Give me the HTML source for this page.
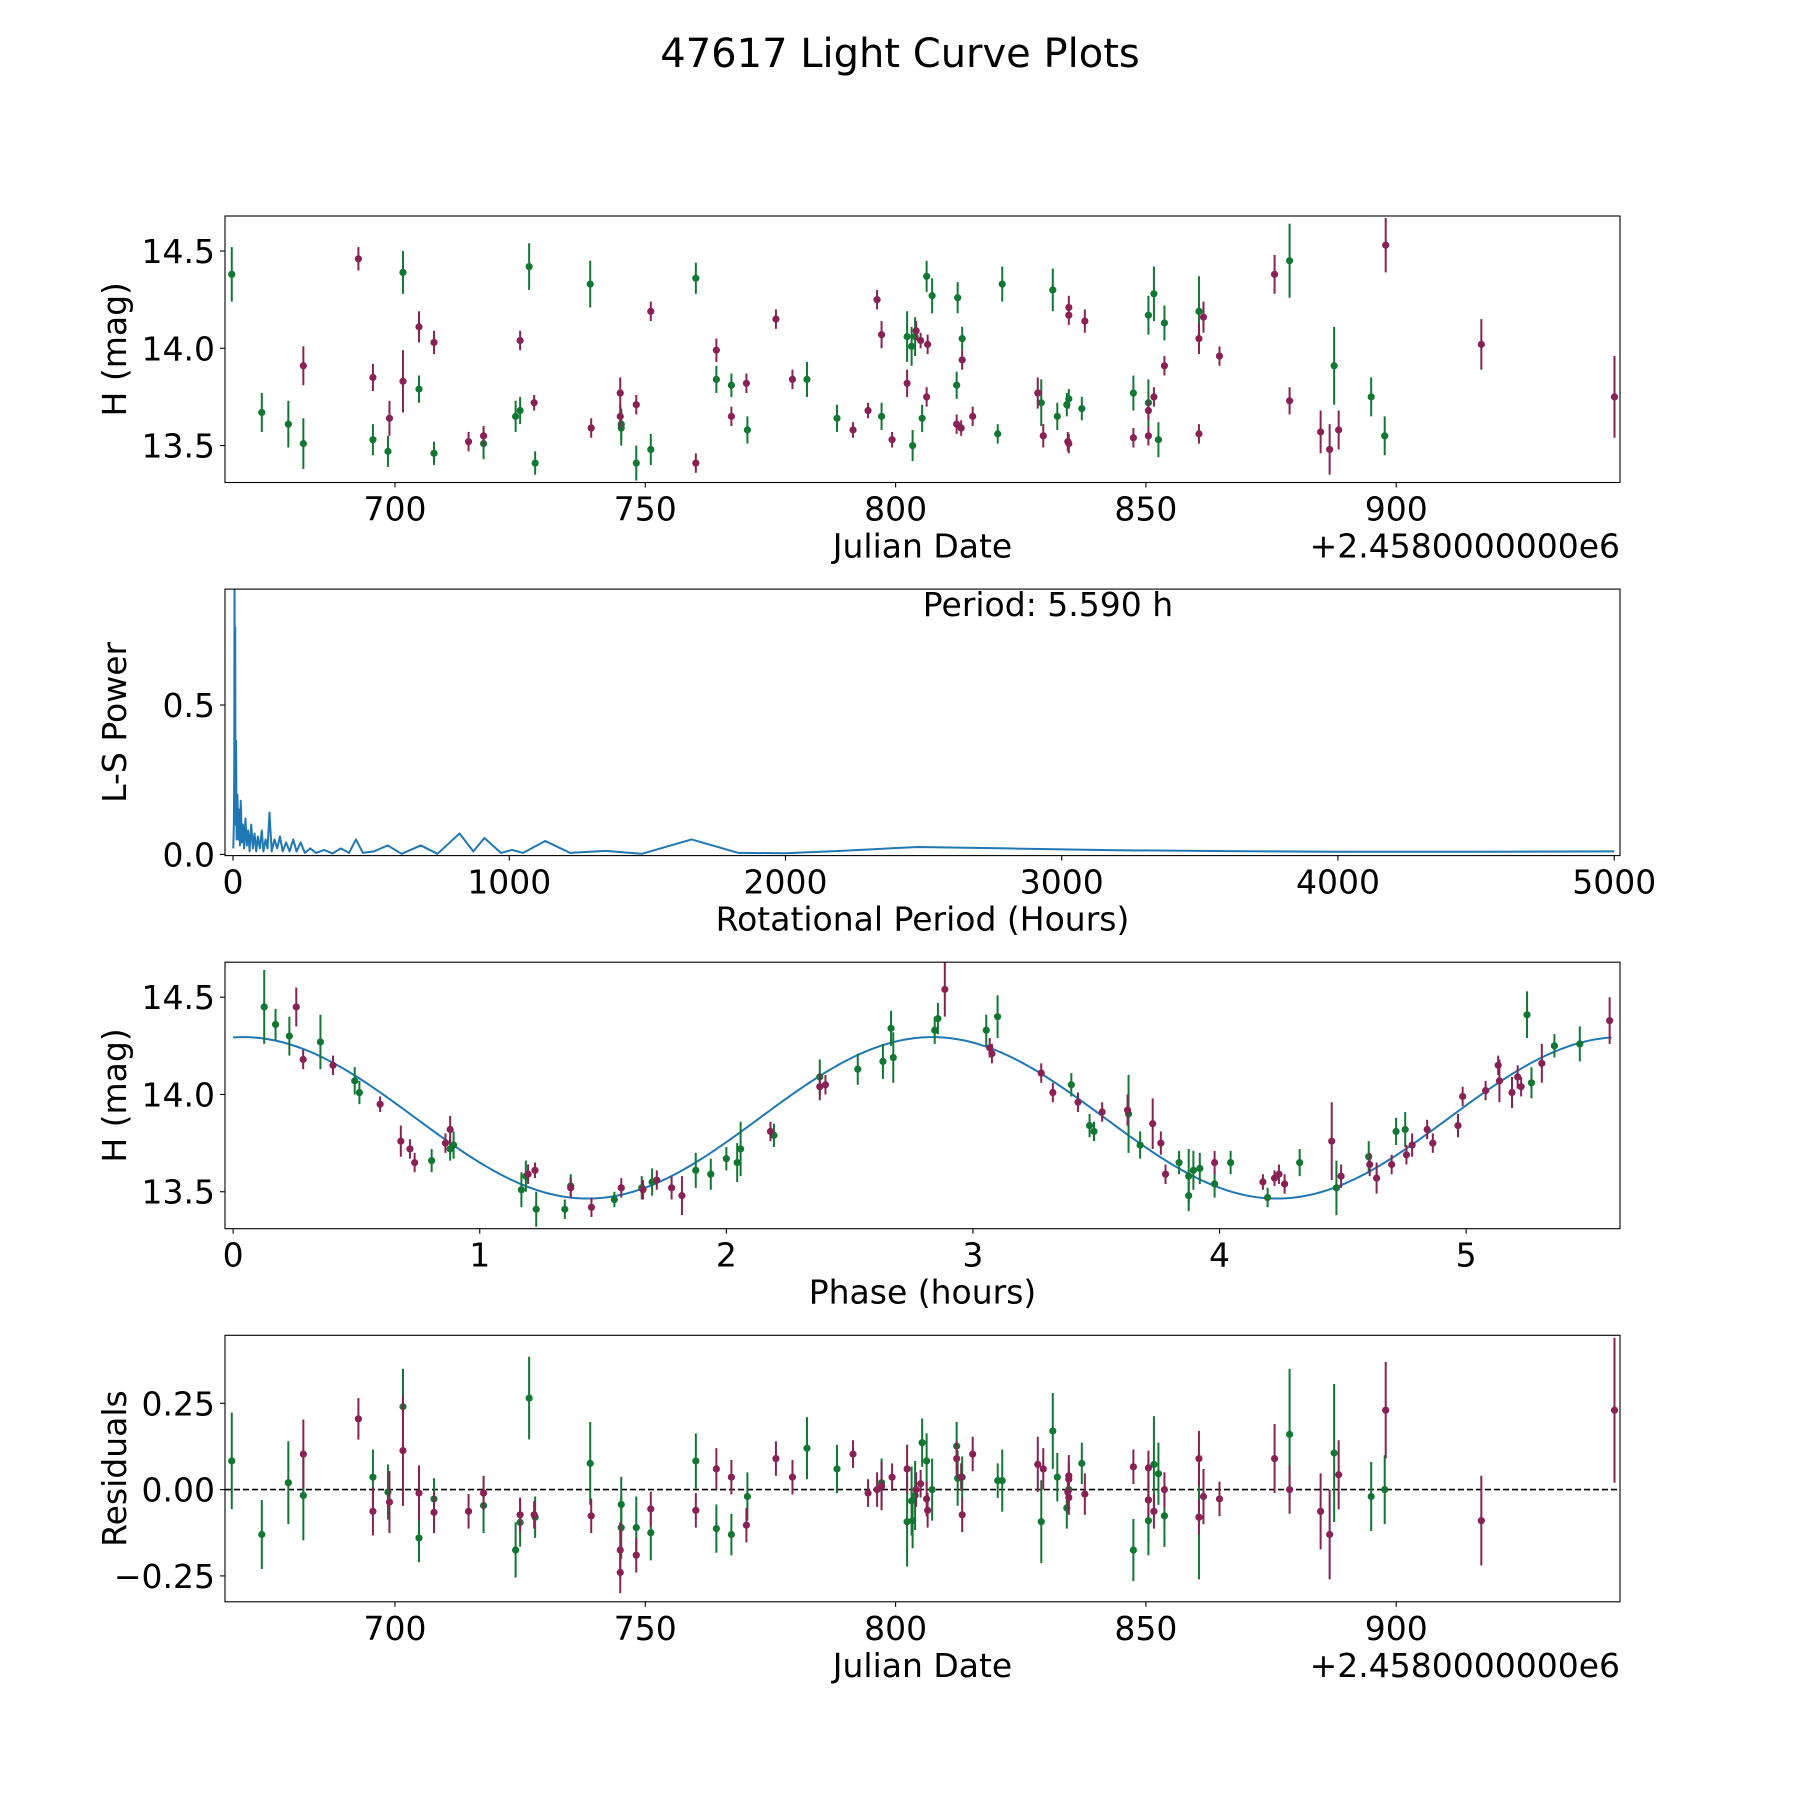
<!DOCTYPE html>
<html><head><meta charset="utf-8"><title>47617 Light Curve Plots</title>
<style>
html,body{margin:0;padding:0;background:#fff;}
svg{display:block;font-family:"DejaVu Sans","Liberation Sans",sans-serif;}
</style></head>
<body>
<svg id="fig" width="1800" height="1800" viewBox="0 0 1800 1800" xmlns="http://www.w3.org/2000/svg">
<rect width="1800" height="1800" fill="#fff"/>
<text x="900" y="67" font-size="40" text-anchor="middle">47617 Light Curve Plots</text>
</svg>
<script>
// ---------- DATA ----------
const greenJD  = [667.4,673.4,678.7,681.7,695.6,698.6,701.6,704.8,707.8,717.7,724.1,725.0,726.8,728.0,739.0,745.2,745.2,748.2,751.1,760.1,764.2,767.2,770.4,782.3,788.3,797.2,802.3,803.2,803.4,803.9,805.3,806.2,807.3,812.2,812.4,813.3,820.4,821.3,829.1,831.4,832.3,834.2,834.6,837.2,847.5,850.5,850.5,851.6,852.5,853.7,860.6,878.7,887.6,895.0,897.7];
const greenMag = [14.38,13.67,13.61,13.51,13.53,13.47,14.39,13.79,13.46,13.51,13.65,13.68,14.42,13.41,14.33,13.61,13.59,13.41,13.48,14.36,13.84,13.81,13.58,13.84,13.64,13.65,14.06,14.01,13.50,14.06,13.64,14.37,14.27,13.81,14.26,14.05,13.56,14.33,13.72,14.30,13.65,13.71,13.74,13.69,13.77,14.17,13.72,14.28,13.53,14.13,14.19,14.45,13.91,13.75,13.55];
const greenErr = [0.14,0.1,0.12,0.13,0.08,0.08,0.11,0.07,0.06,0.08,0.08,0.07,0.12,0.06,0.12,0.08,0.09,0.09,0.08,0.08,0.07,0.06,0.07,0.09,0.07,0.07,0.13,0.1,0.08,0.1,0.07,0.08,0.09,0.07,0.08,0.06,0.05,0.09,0.12,0.11,0.07,0.06,0.05,0.06,0.09,0.1,0.12,0.14,0.09,0.09,0.18,0.19,0.2,0.1,0.1];
const greenRes = [0.083,-0.13,0.02,-0.017,0.036,-0.007,0.24,-0.14,-0.027,-0.046,-0.175,-0.095,0.265,-0.08,0.076,-0.043,-0.11,-0.11,-0.125,0.083,-0.113,-0.13,-0.02,0.12,0.06,0.02,-0.093,-0.033,-0.09,-0.017,0.136,0.083,0.0,0.126,0.033,0.036,0.026,0.026,-0.093,0.17,0.036,-0.053,0.0,0.076,-0.175,-0.09,-0.03,0.073,0.046,-0.076,-0.08,0.16,0.106,-0.02,0.0];
const purpleJD  = [681.7,692.7,695.6,698.9,701.6,704.8,707.8,714.7,717.7,725.0,727.8,739.2,745.0,745.0,748.2,751.1,760.1,764.2,767.2,770.2,776.1,779.4,791.5,794.5,796.3,797.2,799.3,802.3,804.1,805.0,806.4,806.2,812.2,813.1,813.3,815.4,828.4,829.5,834.6,834.6,834.4,834.6,837.8,847.5,850.5,850.5,851.6,853.7,860.6,861.5,860.6,864.7,875.7,878.7,884.9,886.7,888.5,897.9,917.0,943.6];
const purpleMag = [13.91,14.46,13.85,13.64,13.83,14.11,14.03,13.52,13.55,14.04,13.72,13.59,13.77,13.65,13.71,14.19,13.41,13.99,13.65,13.82,14.15,13.84,13.58,13.68,14.25,14.07,13.53,13.82,14.09,14.04,14.02,13.75,13.61,13.59,13.94,13.65,13.77,13.55,14.21,14.17,13.52,13.51,14.14,13.54,13.55,13.68,13.75,13.91,14.05,14.16,13.56,13.96,14.38,13.73,13.57,13.48,13.58,14.53,14.02,13.75];
const purpleErr = [0.1,0.06,0.07,0.09,0.16,0.08,0.06,0.05,0.05,0.05,0.04,0.05,0.08,0.06,0.05,0.05,0.05,0.06,0.05,0.05,0.05,0.05,0.04,0.04,0.05,0.07,0.04,0.07,0.05,0.04,0.05,0.05,0.05,0.04,0.05,0.05,0.08,0.06,0.06,0.05,0.05,0.05,0.06,0.05,0.05,0.05,0.05,0.05,0.08,0.08,0.05,0.05,0.1,0.07,0.11,0.13,0.1,0.14,0.13,0.21];
const purpleRes = [0.103,0.205,-0.063,-0.036,0.113,-0.01,-0.066,-0.063,-0.01,-0.073,-0.073,-0.076,-0.175,-0.24,-0.19,-0.056,-0.06,0.06,0.036,-0.103,0.09,0.036,0.103,-0.01,0.0,0.01,0.036,0.06,0.0,0.017,-0.06,-0.027,0.09,0.036,-0.073,0.103,0.073,0.06,0.04,0.03,-0.007,-0.023,-0.013,0.066,-0.03,0.063,-0.063,0.0,0.09,-0.02,-0.08,-0.027,0.09,0.0,-0.063,-0.13,0.043,0.23,-0.09,0.23];

const lsPeriod = [1,3,4.5,5.0,5.59,6.2,7,8,9,11,13,16,19,22,25,28,32,36,40,45,50,55,60,66,72,78,84,90,97,104,110,118,125,132,140,150,160,170,180,192,205,218,230,245,260,280,300,330,360,390,420,445,470,510,560,610,680,740,820,870,910,970,1010,1050,1130,1220,1350,1480,1660,1830,2000,2200,2480,2800,3200,3600,4000,4500,5000];
const lsPower  = [0.02,0.1,0.3,0.6,0.95,0.5,0.2,0.76,0.1,0.38,0.05,0.2,0.05,0.15,0.03,0.18,0.04,0.1,0.02,0.12,0.03,0.08,0.01,0.1,0.02,0.07,0.01,0.06,0.02,0.08,0.01,0.05,0.02,0.14,0.01,0.05,0.02,0.06,0.01,0.04,0.01,0.05,0.01,0.04,0.005,0.02,0.005,0.015,0.003,0.02,0.005,0.05,0.005,0.01,0.03,0.002,0.03,0.002,0.07,0.01,0.055,0.005,0.015,0.005,0.045,0.005,0.012,0.002,0.05,0.005,0.004,0.012,0.025,0.02,0.014,0.011,0.009,0.009,0.01];

const phGreen    = [0.126,0.172,0.228,0.354,0.493,0.512,0.805,0.880,0.894,1.169,1.187,1.229,1.345,1.369,1.546,1.657,1.699,1.876,1.937,2.0,2.044,2.058,2.193,2.379,2.533,2.635,2.668,2.677,2.845,2.858,3.054,3.1,3.399,3.473,3.491,3.631,3.678,3.836,3.875,3.875,3.894,3.92,3.98,4.045,4.195,4.325,4.474,4.605,4.716,4.753,5.265,5.247,5.358,5.461];
const phGreenMag = [14.45,14.36,14.30,14.27,14.07,14.01,13.66,13.72,13.74,13.51,13.58,13.41,13.41,13.53,13.46,13.52,13.55,13.61,13.59,13.67,13.65,13.72,13.79,14.09,14.13,14.17,14.34,14.19,14.33,14.39,14.33,14.40,14.05,13.84,13.81,13.90,13.74,13.65,13.58,13.48,13.61,13.62,13.54,13.65,13.47,13.65,13.52,13.68,13.81,13.82,14.06,14.41,14.25,14.26];
const phGreenErr = [0.19,0.08,0.1,0.14,0.07,0.06,0.06,0.06,0.07,0.09,0.08,0.09,0.05,0.06,0.04,0.06,0.07,0.09,0.08,0.06,0.1,0.14,0.06,0.09,0.08,0.09,0.09,0.13,0.07,0.08,0.08,0.11,0.06,0.06,0.05,0.2,0.07,0.06,0.14,0.08,0.1,0.08,0.07,0.06,0.05,0.07,0.14,0.08,0.07,0.09,0.08,0.12,0.06,0.09];
const phPurple    = [0.256,0.284,0.405,0.596,0.68,0.717,0.736,0.861,0.88,1.196,1.224,1.369,1.453,1.574,1.662,1.718,1.778,1.82,2.179,2.379,2.402,2.886,3.068,3.077,3.277,3.324,3.426,3.524,3.627,3.729,3.762,3.781,3.98,4.176,4.223,4.241,4.264,4.455,4.493,4.609,4.637,4.698,4.758,4.781,4.842,4.865,4.967,4.986,5.079,5.13,5.135,5.186,5.209,5.223,5.307,5.582];
const phPurpleMag = [14.45,14.18,14.15,13.95,13.76,13.72,13.65,13.75,13.82,13.59,13.61,13.52,13.42,13.52,13.51,13.56,13.52,13.48,13.81,14.04,14.05,14.54,14.24,14.21,14.11,14.01,13.96,13.91,13.92,13.85,13.75,13.59,13.65,13.55,13.57,13.59,13.54,13.76,13.58,13.64,13.57,13.64,13.69,13.74,13.82,13.75,13.84,13.99,14.02,14.15,14.07,14.01,14.09,14.04,14.16,14.38];
const phPurpleErr = [0.1,0.05,0.05,0.04,0.08,0.05,0.05,0.05,0.07,0.05,0.04,0.05,0.05,0.05,0.05,0.05,0.06,0.1,0.05,0.07,0.05,0.14,0.05,0.05,0.05,0.05,0.05,0.05,0.08,0.13,0.06,0.05,0.06,0.04,0.04,0.05,0.05,0.2,0.06,0.06,0.08,0.05,0.05,0.06,0.05,0.05,0.06,0.05,0.05,0.05,0.11,0.08,0.06,0.05,0.1,0.12];

const modelMean = 13.88, modelAmp = 0.415, modelOffset = 0.04, modelHalfPeriod = 2.795;

const jdTicks = [700,750,800,850,900];
const magTicks = [13.5,14.0,14.5];
const magTickLabels = ["13.5","14.0","14.5"];
const lsXTicks = [0,1000,2000,3000,4000,5000];
const lsYTicks = [0.0,0.5];
const lsYTickLabels = ["0.0","0.5"];
const phTicks = [0,1,2,3,4,5];
const resTicks = [-0.25,0,0.25];
const resTickLabels = ["\u22120.25","0.00","0.25"];

// ---------- RENDER ----------
const NS = "http://www.w3.org/2000/svg";
const svg = document.getElementById('fig');
const GREEN = "#117733", PURPLE = "#882255", BLUE = "#1f77b4";
const L = 225, R = 1620, H = 266.5;
const TOPS = [216, 589.1, 962.2, 1335.3];
const FS = 33;

function mk(tag, attrs, parent) {
  const e = document.createElementNS(NS, tag);
  for (const k in attrs) e.setAttribute(k, attrs[k]);
  (parent || svg).appendChild(e);
  return e;
}
function scale(d0, d1, r0, r1) { return v => r0 + (v - d0) / (d1 - d0) * (r1 - r0); }

function makeAxes(idx, name, xd, yd) {
  const top = TOPS[idx], bot = top + H;
  const g = mk('g', {});
  
  
  const clip = mk('clipPath', {id: 'clip' + idx}, g);
  mk('rect', {x: L, y: top, width: R - L, height: H}, clip);
  const plot = mk('g', {'clip-path': 'url(#clip' + idx + ')'}, g);
  
  
  return {g, plot, top, bot, x: scale(xd[0], xd[1], L, R), y: scale(yd[0], yd[1], bot, top)};
}
function frame(ax, name) {
  const f = mk('rect', {x: L, y: ax.top, width: R - L, height: H, fill: 'none', stroke: '#000', 'stroke-width': 1.1}, ax.g);
  
  
}
function xTicks(ax, ticks, labels, name) {
  const g = mk('g', {}, ax.g);
  
  
  ticks.forEach((t, i) => {
    const px = ax.x(t);
    mk('line', {x1: px, x2: px, y1: ax.bot, y2: ax.bot + 5, stroke: '#000', 'stroke-width': 1.1}, g);
    const tx = mk('text', {x: px, y: ax.bot + 38, 'font-size': FS, 'text-anchor': 'middle'}, g);
    
    
    tx.textContent = labels[i];
  });
}
function yTicks(ax, ticks, labels, name) {
  const g = mk('g', {}, ax.g);
  
  
  ticks.forEach((t, i) => {
    const py = ax.y(t);
    mk('line', {x1: L - 5, x2: L, y1: py, y2: py, stroke: '#000', 'stroke-width': 1.1}, g);
    const tx = mk('text', {x: L - 10, y: py + 12, 'font-size': FS, 'text-anchor': 'end'}, g);
    
    
    tx.textContent = labels[i];
  });
}
function xLabel(ax, text, name) {
  const t = mk('text', {x: (L + R) / 2, y: ax.bot + 75, 'font-size': FS, 'text-anchor': 'middle'}, ax.g);
  
  
  t.textContent = text;
}
function yLabel(ax, text, name) {
  const cy = ax.top + H / 2;
  const t = mk('text', {x: 126, y: cy, 'font-size': FS, 'text-anchor': 'middle', transform: 'rotate(-90 126 ' + cy + ')'}, ax.g);
  
  
  t.textContent = text;
}
function offsetText(ax) {
  const t = mk('text', {x: R, y: ax.bot + 75, 'font-size': FS, 'text-anchor': 'end'}, ax.g);
  
  
  t.textContent = '+2.4580000000e6';
}
function points(ax, xs, ys, errs, color, name) {
  const g = mk('g', {}, ax.plot);
  
  
  xs.forEach((xv, i) => {
    const px = ax.x(xv), py = ax.y(ys[i]);
    const e = errs[i];
    const ln = mk('line', {x1: px, x2: px, y1: ax.y(ys[i] - e), y2: ax.y(ys[i] + e), stroke: color, 'stroke-width': 2}, g);
    
    
    const c = mk('circle', {cx: px, cy: py, r: 3.6, fill: color}, g);
    
    
  });
}

// Panel 1: light curve
const a1 = makeAxes(0, 'light-curve-panel', [666.05, 944.7], [13.31, 14.68]);
points(a1, greenJD, greenMag, greenErr, GREEN, 'series-green');
points(a1, purpleJD, purpleMag, purpleErr, PURPLE, 'series-purple');
frame(a1, 'light-curve');
xTicks(a1, jdTicks, jdTicks.map(String), 'x-axis-ticks');
yTicks(a1, magTicks, magTickLabels, 'y-axis-ticks');
xLabel(a1, 'Julian Date', 'x-axis-title');
yLabel(a1, 'H (mag)', 'y-axis-title');
offsetText(a1);

// Panel 2: periodogram
const a2 = makeAxes(1, 'periodogram-panel', [-29, 5021], [-0.004, 0.888]);
const lsPath = mk('path', {d: lsPeriod.map((p, i) => (i ? 'L' : 'M') + a2.x(p).toFixed(2) + ',' + a2.y(lsPower[i]).toFixed(2)).join(''), fill: 'none', stroke: BLUE, 'stroke-width': 2, 'stroke-linejoin': 'round'}, a2.plot);


frame(a2, 'periodogram');
xTicks(a2, lsXTicks, lsXTicks.map(String), 'x-axis-ticks');
yTicks(a2, lsYTicks, lsYTickLabels, 'y-axis-ticks');
xLabel(a2, 'Rotational Period (Hours)', 'x-axis-title');
yLabel(a2, 'L-S Power', 'y-axis-title');
const pt = mk('text', {x: 1048, y: 616, 'font-size': FS, 'text-anchor': 'middle'}, a2.g);


pt.textContent = 'Period: 5.590 h';

// Panel 3: phased
const a3 = makeAxes(2, 'phased-panel', [-0.033, 5.624], [13.31, 14.68]);
let md = '';
for (let i = 0; i <= 400; i++) {
  const p = 5.59 * i / 400;
  const m = modelMean + modelAmp * Math.cos(2 * Math.PI * (p - modelOffset) / modelHalfPeriod);
  md += (i ? 'L' : 'M') + a3.x(p).toFixed(2) + ',' + a3.y(m).toFixed(2);
}
const mp = mk('path', {d: md, fill: 'none', stroke: BLUE, 'stroke-width': 2}, a3.plot);


points(a3, phGreen, phGreenMag, phGreenErr, GREEN, 'series-green');
points(a3, phPurple, phPurpleMag, phPurpleErr, PURPLE, 'series-purple');
frame(a3, 'phased');
xTicks(a3, phTicks, phTicks.map(String), 'x-axis-ticks');
yTicks(a3, magTicks, magTickLabels, 'y-axis-ticks');
xLabel(a3, 'Phase (hours)', 'x-axis-title');
yLabel(a3, 'H (mag)', 'y-axis-title');

// Panel 4: residuals
const a4 = makeAxes(3, 'residuals-panel', [666.05, 944.7], [-0.325, 0.447]);
const zl = mk('line', {x1: L, x2: R, y1: a4.y(0), y2: a4.y(0), stroke: '#000', 'stroke-width': 1.6, 'stroke-dasharray': '6,3'}, a4.plot);


points(a4, greenJD, greenRes, greenErr, GREEN, 'series-green');
points(a4, purpleJD, purpleRes, purpleErr, PURPLE, 'series-purple');
frame(a4, 'residuals');
xTicks(a4, jdTicks, jdTicks.map(String), 'x-axis-ticks');
yTicks(a4, resTicks, resTickLabels, 'y-axis-ticks');
xLabel(a4, 'Julian Date', 'x-axis-title');
yLabel(a4, 'Residuals', 'y-axis-title');
offsetText(a4);
</script>
</body></html>
